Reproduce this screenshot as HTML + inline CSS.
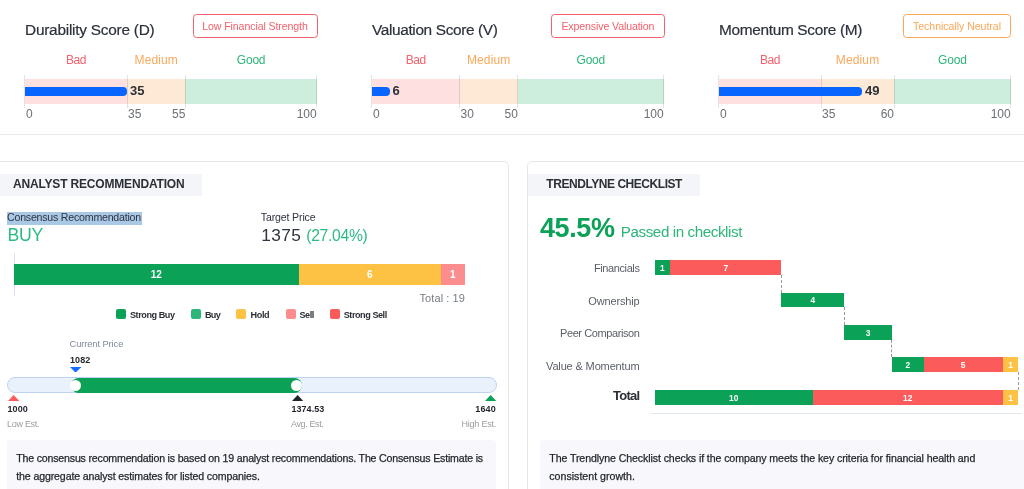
<!DOCTYPE html>
<html lang="en"><head><meta charset="utf-8"><title>Scores</title>
<style>
html,body{margin:0;padding:0;background:#fff}
body{width:1024px;height:489px;position:relative;overflow:hidden;font-family:"Liberation Sans", sans-serif}
#p{position:absolute;left:0;top:0;width:1024px;height:489px;overflow:hidden}
#p div,#p span,#p svg{position:absolute;display:block}
#p span{white-space:nowrap}
</style></head><body><div id="p">
<div style="left:192.5px;top:14px;width:125.0px;height:24px;border:1px solid #f4606c;border-radius:3.5px;box-sizing:border-box"></div>
<div style="left:25px;top:79px;width:102.095px;height:24.5px;background:#fee0e1;"></div>
<div style="left:127.095px;top:79px;width:58.34px;height:24.5px;background:#fee8d6;"></div>
<div style="left:185.435px;top:79px;width:131.265px;height:24.5px;background:#cdeedd;"></div>
<div style="left:24px;top:75px;width:1px;height:32.5px;background:rgba(0,0,0,0.11);"></div>
<div style="left:127px;top:75px;width:1px;height:32.5px;background:rgba(0,0,0,0.11);"></div>
<div style="left:185px;top:75px;width:1px;height:32.5px;background:rgba(0,0,0,0.11);"></div>
<div style="left:316px;top:75px;width:1px;height:32.5px;background:rgba(0,0,0,0.11);"></div>
<div style="left:25px;top:87px;width:102.095px;height:9px;background:#0866ff;border-radius:0 4px 4px 0"></div>
<div style="left:551.25px;top:14px;width:113.25px;height:24px;border:1px solid #f4606c;border-radius:3.5px;box-sizing:border-box"></div>
<div style="left:372px;top:79px;width:87.50999999999999px;height:24.5px;background:#fee0e1;"></div>
<div style="left:459.51px;top:79px;width:58.34000000000003px;height:24.5px;background:#fee8d6;"></div>
<div style="left:517.85px;top:79px;width:145.85000000000002px;height:24.5px;background:#cdeedd;"></div>
<div style="left:371px;top:75px;width:1px;height:32.5px;background:rgba(0,0,0,0.11);"></div>
<div style="left:459px;top:75px;width:1px;height:32.5px;background:rgba(0,0,0,0.11);"></div>
<div style="left:517px;top:75px;width:1px;height:32.5px;background:rgba(0,0,0,0.11);"></div>
<div style="left:663px;top:75px;width:1px;height:32.5px;background:rgba(0,0,0,0.11);"></div>
<div style="left:372px;top:87px;width:17.50200000000001px;height:9px;background:#0866ff;border-radius:0 4px 4px 0"></div>
<div style="left:903px;top:14px;width:108px;height:24px;border:1px solid #fda758;border-radius:3.5px;box-sizing:border-box"></div>
<div style="left:719px;top:79px;width:102.09500000000003px;height:24.5px;background:#fee0e1;"></div>
<div style="left:821.095px;top:79px;width:72.92499999999995px;height:24.5px;background:#fee8d6;"></div>
<div style="left:894.02px;top:79px;width:116.68000000000006px;height:24.5px;background:#cdeedd;"></div>
<div style="left:718px;top:75px;width:1px;height:32.5px;background:rgba(0,0,0,0.11);"></div>
<div style="left:821px;top:75px;width:1px;height:32.5px;background:rgba(0,0,0,0.11);"></div>
<div style="left:894px;top:75px;width:1px;height:32.5px;background:rgba(0,0,0,0.11);"></div>
<div style="left:1010px;top:75px;width:1px;height:32.5px;background:rgba(0,0,0,0.11);"></div>
<div style="left:719px;top:87px;width:142.933px;height:9px;background:#0866ff;border-radius:0 4px 4px 0"></div>
<div style="left:0px;top:134px;width:1024px;height:1px;background:#e9e9ec;"></div>
<div style="left:-10px;top:161px;width:518.5px;height:400px;border:1px solid #e6e6e9;border-radius:5px;box-sizing:border-box"></div>
<div style="left:527px;top:161px;width:600px;height:400px;border:1px solid #e6e6e9;border-radius:5px;box-sizing:border-box"></div>
<div style="left:0px;top:174px;width:202px;height:22px;background:#f4f5f8;"></div>
<div style="left:528px;top:174px;width:172px;height:22px;background:#f4f5f8;"></div>
<div style="left:6.75px;top:212px;width:135px;height:12.5px;background:#a9c8e6;"></div>
<div style="left:13.5px;top:253px;width:1px;height:43px;background:#dfe1ee;"></div>
<div style="left:14px;top:264px;width:284.6842105263158px;height:20.5px;background:#0ba257;"></div>
<div style="left:298.6842105263158px;top:264px;width:142.3421052631579px;height:20.5px;background:#fdc143;"></div>
<div style="left:441.02631578947364px;top:264px;width:23.72368421052633px;height:20.5px;background:#fc8d8f;"></div>
<div style="left:115.75px;top:309.25px;width:10px;height:10px;background:#0ba257;border-radius:2px"></div>
<div style="left:190.5px;top:309.25px;width:10px;height:10px;background:#2cb67a;border-radius:2px"></div>
<div style="left:235.75px;top:309.25px;width:10px;height:10px;background:#fdc143;border-radius:2px"></div>
<div style="left:285.5px;top:309.25px;width:10px;height:10px;background:#fc8d8f;border-radius:2px"></div>
<div style="left:329.5px;top:309.25px;width:10px;height:10px;background:#fc5b5c;border-radius:2px"></div>
<div style="left:6.75px;top:377px;width:489.75px;height:16px;border:1px solid #bdd3f1;background:#e9f1fc;border-radius:8px;box-sizing:border-box"></div>
<div style="left:70.5px;top:377.5px;width:231px;height:15px;background:#0ba257;border-radius:7.5px"></div>
<div style="left:70.25px;top:379.5px;width:11px;height:11px;background:#fff;border-radius:50%"></div>
<div style="left:290.75px;top:379.5px;width:11px;height:11px;background:#fff;border-radius:50%"></div>
<svg style="left:70px;top:366.5px" width="11.25" height="5.75" viewBox="0 0 11.25 5.75"><polygon points="0,0 11.25,0 5.625,5.75" fill="#176bff"/></svg>
<svg style="left:7.5px;top:395.25px" width="11.25" height="6" viewBox="0 0 11.25 6"><polygon points="0,6 11.25,6 5.625,0" fill="#fc5b5c"/></svg>
<svg style="left:291.5px;top:395.25px" width="11.25" height="6" viewBox="0 0 11.25 6"><polygon points="0,6 11.25,6 5.625,0" fill="#1f2329"/></svg>
<svg style="left:484.75px;top:395.25px" width="11.25" height="6" viewBox="0 0 11.25 6"><polygon points="0,6 11.25,6 5.625,0" fill="#0ba257"/></svg>
<div style="left:6.75px;top:439.5px;width:489.5px;height:60px;background:#f8f8fc;border-radius:4px"></div>
<div style="left:654.5px;top:260px;width:15.83px;height:14.5px;background:#0ba257;"></div>
<div style="left:670.33px;top:260px;width:110.78px;height:14.5px;background:#fc5b5c;"></div>
<div style="left:781.11px;top:292.5px;width:63.3px;height:14.5px;background:#0ba257;"></div>
<div style="left:844.41px;top:325px;width:47.48px;height:14.5px;background:#0ba257;"></div>
<div style="left:891.89px;top:357.25px;width:31.65px;height:14.5px;background:#0ba257;"></div>
<div style="left:923.54px;top:357.25px;width:79.13px;height:14.5px;background:#fc5b5c;"></div>
<div style="left:1002.67px;top:357.25px;width:15.83px;height:14.5px;background:#fdc143;"></div>
<div style="left:654.5px;top:390px;width:158.26px;height:14.5px;background:#0ba257;"></div>
<div style="left:812.76px;top:390px;width:189.91px;height:14.5px;background:#fc5b5c;"></div>
<div style="left:1002.67px;top:390px;width:15.83px;height:14.5px;background:#fdc143;"></div>
<div style="left:780.61px;top:274.5px;width:0;height:18.0px;border-left:1px dashed #9a9a9a"></div>
<div style="left:843.91px;top:307px;width:0;height:18px;border-left:1px dashed #9a9a9a"></div>
<div style="left:891.39px;top:339.5px;width:0;height:17.75px;border-left:1px dashed #9a9a9a"></div>
<div style="left:1018.0px;top:371.75px;width:0;height:18.25px;border-left:1px dashed #9a9a9a"></div>
<div style="left:651px;top:413px;width:371px;height:1px;background:#e1e8f1;"></div>
<div style="left:540px;top:439.5px;width:500px;height:60px;background:#f8f8fc;border-radius:4px"></div>
<span style="left:25.00px;top:19px;font-size:15.4px;line-height:22px;color:#2c313b;letter-spacing:-0.239px;-webkit-text-stroke:0.2px #2c313b;">Durability Score (D)</span>
<span style="left:202.25px;top:19px;font-size:10.6px;line-height:15px;color:#f4606c;letter-spacing:-0.103px;">Low Financial Strength</span>
<span style="left:130.09px;top:82px;font-size:13px;line-height:18px;color:#2b2f36;font-weight:700;">35</span>
<span style="left:65.95px;top:52px;font-size:12px;line-height:17px;color:#f4606c;letter-spacing:-0.386px;">Bad</span>
<span style="left:134.51px;top:52px;font-size:12px;line-height:17px;color:#fda758;letter-spacing:0.135px;">Medium</span>
<span style="left:236.82px;top:52px;font-size:12px;line-height:17px;color:#2cb67a;letter-spacing:-0.215px;">Good</span>
<span style="left:26.00px;top:106px;font-size:12px;line-height:17px;color:#6b6f76;">0</span>
<span style="left:128.09px;top:106px;font-size:12px;line-height:17px;color:#6b6f76;">35</span>
<span style="left:172.08px;top:106px;font-size:12px;line-height:17px;color:#6b6f76;">55</span>
<span style="left:296.67px;top:106px;font-size:12px;line-height:17px;color:#6b6f76;">100</span>
<span style="left:372.00px;top:19px;font-size:15.4px;line-height:22px;color:#2c313b;letter-spacing:-0.359px;-webkit-text-stroke:0.2px #2c313b;">Valuation Score (V)</span>
<span style="left:561.38px;top:19px;font-size:10.6px;line-height:15px;color:#f4606c;letter-spacing:-0.117px;">Expensive Valuation</span>
<span style="left:392.50px;top:82px;font-size:13px;line-height:18px;color:#2b2f36;font-weight:700;">6</span>
<span style="left:405.65px;top:52px;font-size:12px;line-height:17px;color:#f4606c;letter-spacing:-0.386px;">Bad</span>
<span style="left:466.93px;top:52px;font-size:12px;line-height:17px;color:#fda758;letter-spacing:0.135px;">Medium</span>
<span style="left:576.53px;top:52px;font-size:12px;line-height:17px;color:#2cb67a;letter-spacing:-0.215px;">Good</span>
<span style="left:373.00px;top:106px;font-size:12px;line-height:17px;color:#6b6f76;">0</span>
<span style="left:460.51px;top:106px;font-size:12px;line-height:17px;color:#6b6f76;">30</span>
<span style="left:504.49px;top:106px;font-size:12px;line-height:17px;color:#6b6f76;">50</span>
<span style="left:643.67px;top:106px;font-size:12px;line-height:17px;color:#6b6f76;">100</span>
<span style="left:719.00px;top:19px;font-size:15.4px;line-height:22px;color:#2c313b;letter-spacing:-0.323px;-webkit-text-stroke:0.2px #2c313b;">Momentum Score (M)</span>
<span style="left:913.00px;top:19px;font-size:10.6px;line-height:15px;color:#fda758;letter-spacing:-0.049px;">Technically Neutral</span>
<span style="left:864.93px;top:82px;font-size:13px;line-height:18px;color:#2b2f36;font-weight:700;">49</span>
<span style="left:759.95px;top:52px;font-size:12px;line-height:17px;color:#f4606c;letter-spacing:-0.386px;">Bad</span>
<span style="left:835.81px;top:52px;font-size:12px;line-height:17px;color:#fda758;letter-spacing:0.135px;">Medium</span>
<span style="left:938.11px;top:52px;font-size:12px;line-height:17px;color:#2cb67a;letter-spacing:-0.215px;">Good</span>
<span style="left:720.00px;top:106px;font-size:12px;line-height:17px;color:#6b6f76;">0</span>
<span style="left:822.10px;top:106px;font-size:12px;line-height:17px;color:#6b6f76;">35</span>
<span style="left:880.66px;top:106px;font-size:12px;line-height:17px;color:#6b6f76;">60</span>
<span style="left:990.67px;top:106px;font-size:12px;line-height:17px;color:#6b6f76;">100</span>
<span style="left:13.00px;top:176px;font-size:12px;line-height:17px;color:#2b2f36;font-weight:700;letter-spacing:-0.175px;">ANALYST RECOMMENDATION</span>
<span style="left:546.30px;top:176px;font-size:12px;line-height:17px;color:#2b2f36;font-weight:700;letter-spacing:-0.449px;">TRENDLYNE CHECKLIST</span>
<span style="left:7.00px;top:210px;font-size:10.6px;line-height:15px;color:#2e3440;letter-spacing:-0.208px;">Consensus Recommendation</span>
<span style="left:7.50px;top:223px;font-size:17.7px;line-height:25px;color:#2dbb83;letter-spacing:-0.292px;">BUY</span>
<span style="left:260.75px;top:210px;font-size:10.6px;line-height:15px;color:#2e3440;letter-spacing:-0.148px;">Target Price</span>
<span style="left:261.25px;top:223px;font-size:17.3px;line-height:24px;color:#2e3440;letter-spacing:0.387px;">1375</span>
<span style="left:306.25px;top:225px;font-size:15.7px;line-height:22px;color:#2dbb83;letter-spacing:-0.301px;">(27.04%)</span>
<span style="left:150.78px;top:268px;font-size:10px;line-height:14px;color:#fff;font-weight:700;">12</span>
<span style="left:367.07px;top:268px;font-size:10px;line-height:14px;color:#fff;font-weight:700;">6</span>
<span style="left:450.11px;top:268px;font-size:10px;line-height:14px;color:#fff;font-weight:700;">1</span>
<span style="left:419.50px;top:291px;font-size:11px;line-height:15px;color:#777c85;letter-spacing:0.086px;">Total : 19</span>
<span style="left:130.00px;top:309px;font-size:9.1px;line-height:13px;color:#2b2f36;font-weight:700;letter-spacing:-0.452px;">Strong Buy</span>
<span style="left:205.00px;top:309px;font-size:9.1px;line-height:13px;color:#2b2f36;font-weight:700;letter-spacing:-0.729px;">Buy</span>
<span style="left:250.50px;top:309px;font-size:9.1px;line-height:13px;color:#2b2f36;font-weight:700;letter-spacing:-0.367px;">Hold</span>
<span style="left:299.50px;top:309px;font-size:9.1px;line-height:13px;color:#2b2f36;font-weight:700;letter-spacing:-0.484px;">Sell</span>
<span style="left:343.75px;top:309px;font-size:9.1px;line-height:13px;color:#2b2f36;font-weight:700;letter-spacing:-0.455px;">Strong Sell</span>
<span style="left:69.50px;top:338px;font-size:9.3px;line-height:13px;color:#7f8a9c;letter-spacing:-0.078px;">Current Price</span>
<span style="left:70.00px;top:354px;font-size:9px;line-height:13px;color:#1f2329;font-weight:700;letter-spacing:0.117px;">1082</span>
<span style="left:7.50px;top:403px;font-size:9px;line-height:13px;color:#1f2329;font-weight:700;letter-spacing:0.117px;">1000</span>
<span style="left:291.50px;top:403px;font-size:9px;line-height:13px;color:#1f2329;font-weight:700;letter-spacing:0.029px;">1374.53</span>
<span style="left:475.25px;top:403px;font-size:9px;line-height:13px;color:#1f2329;font-weight:700;letter-spacing:0.180px;">1640</span>
<span style="left:7.00px;top:418px;font-size:9px;line-height:13px;color:#9a9da3;letter-spacing:-0.283px;">Low Est.</span>
<span style="left:291.00px;top:418px;font-size:9px;line-height:13px;color:#9a9da3;letter-spacing:-0.373px;">Avg. Est.</span>
<span style="left:461.50px;top:418px;font-size:9px;line-height:13px;color:#9a9da3;letter-spacing:-0.224px;">High Est.</span>
<span style="left:16.25px;top:451px;font-size:10.6px;line-height:15px;color:#1f2329;letter-spacing:-0.182px;-webkit-text-stroke:0.25px #1f2329;">The consensus recommendation is based on 19 analyst recommendations. The Consensus Estimate is</span>
<span style="left:16.25px;top:469px;font-size:10.6px;line-height:15px;color:#1f2329;letter-spacing:-0.128px;-webkit-text-stroke:0.25px #1f2329;">the aggregate analyst estimates for listed companies.</span>
<span style="left:540.00px;top:209px;font-size:27px;line-height:38px;color:#0ba257;font-weight:700;letter-spacing:-0.412px;">45.5%</span>
<span style="left:620.75px;top:221px;font-size:15.2px;line-height:21px;color:#2cb67a;letter-spacing:-0.416px;">Passed in checklist</span>
<span style="left:660.08px;top:262px;font-size:8.4px;line-height:12px;color:#fff;font-weight:700;">1</span>
<span style="left:723.38px;top:262px;font-size:8.4px;line-height:12px;color:#fff;font-weight:700;">7</span>
<span style="left:594.00px;top:261px;font-size:11px;line-height:15px;color:#5a5f68;letter-spacing:-0.403px;">Financials</span>
<span style="left:810.42px;top:294px;font-size:8.4px;line-height:12px;color:#fff;font-weight:700;">4</span>
<span style="left:588.25px;top:294px;font-size:11px;line-height:15px;color:#5a5f68;letter-spacing:-0.148px;">Ownership</span>
<span style="left:865.82px;top:327px;font-size:8.4px;line-height:12px;color:#fff;font-weight:700;">3</span>
<span style="left:560.00px;top:326px;font-size:11px;line-height:15px;color:#5a5f68;letter-spacing:-0.406px;">Peer Comparison</span>
<span style="left:905.38px;top:359px;font-size:8.4px;line-height:12px;color:#fff;font-weight:700;">2</span>
<span style="left:960.77px;top:359px;font-size:8.4px;line-height:12px;color:#fff;font-weight:700;">5</span>
<span style="left:1008.25px;top:359px;font-size:8.4px;line-height:12px;color:#fff;font-weight:700;">1</span>
<span style="left:546.00px;top:359px;font-size:11px;line-height:15px;color:#5a5f68;letter-spacing:-0.144px;">Value &amp; Momentum</span>
<span style="left:728.97px;top:392px;font-size:8.4px;line-height:12px;color:#fff;font-weight:700;">10</span>
<span style="left:903.05px;top:392px;font-size:8.4px;line-height:12px;color:#fff;font-weight:700;">12</span>
<span style="left:1008.25px;top:392px;font-size:8.4px;line-height:12px;color:#fff;font-weight:700;">1</span>
<span style="left:613.00px;top:387px;font-size:13px;line-height:18px;color:#2b2f36;font-weight:700;letter-spacing:-0.719px;">Total</span>
<span style="left:549.30px;top:451px;font-size:10.6px;line-height:15px;color:#1f2329;letter-spacing:-0.093px;-webkit-text-stroke:0.25px #1f2329;">The Trendlyne Checklist checks if the company meets the key criteria for financial health and</span>
<span style="left:549.30px;top:469px;font-size:10.6px;line-height:15px;color:#1f2329;letter-spacing:0.012px;-webkit-text-stroke:0.25px #1f2329;">consistent growth.</span>
</div></body></html>
